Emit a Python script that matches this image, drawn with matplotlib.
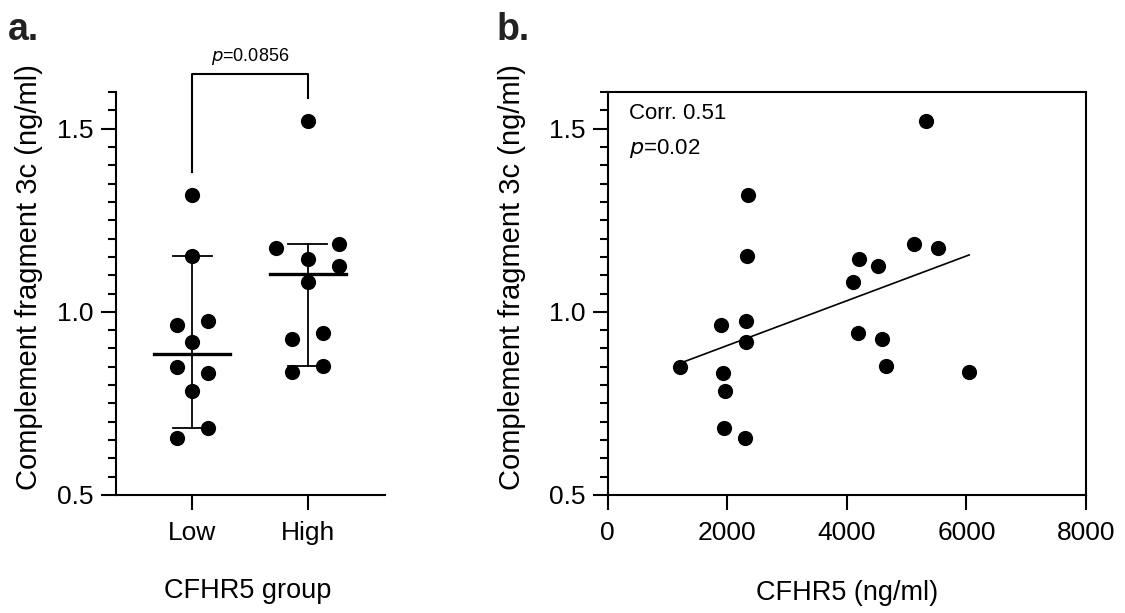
import numpy as np
import matplotlib
matplotlib.use("Agg")
import matplotlib.pyplot as plt
from matplotlib.ticker import MultipleLocator, FormatStrFormatter

plt.rcParams['font.family'] = ['Liberation Sans', 'DejaVu Sans']

# complement fragment 3c (ng/ml) per patient, split by CFHR5 group
c3c_low = [0.850, 0.964, 0.832, 0.784, 0.682, 0.656, 1.320, 1.153, 0.975, 0.918]
c3c_high = [1.082, 1.144, 1.125, 0.941, 0.927, 0.853, 1.184, 1.175, 1.520, 0.836]
# CFHR5 (ng/ml) for the same patients
cfhr5_low = [1205, 1900, 1927, 1967, 1943, 2288, 2343, 2327, 2317, 2317]
cfhr5_high = [4094, 4205, 4522, 4194, 4583, 4650, 5128, 5523, 5317, 6045]

groups = ['Low', 'High']
p_group = '0.0856'
corr_text = 'Corr. 0.51'
p_corr = '0.02'

# swarm layout (in dot widths) as drawn in the original
low_swarm = [-1, -1, 1, 0, 1, -1, 0, 0, 1, 0]
high_swarm = [0, 0, 2, 1, -1, 1, 2, -2, 0, -1]

fig = plt.figure(figsize=(11.25, 6.13), dpi=100)
ax1 = fig.add_axes([0.1031, 0.1925, 0.2391, 0.6574])
ax2 = fig.add_axes([0.5402, 0.1925, 0.4252, 0.6574])

dot = 0.135
ms = 120
lw_axis = 1.5


def style_axis(ax):
    for s in ax.spines.values():
        s.set_linewidth(lw_axis)
    ax.tick_params(axis='both', which='major', length=11, width=lw_axis,
                   labelsize=19, direction='out')
    ax.tick_params(axis='x', pad=8)
    ax.tick_params(axis='y', pad=5)
    ax.tick_params(axis='y', which='minor', length=5.5, width=lw_axis)
    ax.set_ylim(0.5, 1.6)
    ax.yaxis.set_major_locator(MultipleLocator(0.5))
    ax.yaxis.set_minor_locator(MultipleLocator(0.05))
    ax.yaxis.set_major_formatter(FormatStrFormatter('%.1f'))
    ax.set_ylabel('Complement fragment 3c (ng/ml)', fontsize=21)


# ---- panel a ----
style_axis(ax1)
ax1.spines['top'].set_visible(False)
ax1.spines['right'].set_visible(False)

for i, (vals, sw) in enumerate([(c3c_low, low_swarm), (c3c_high, high_swarm)]):
    vals = np.array(vals)
    xs = i + np.array(sw) * dot
    ax1.scatter(xs, vals, s=ms, color='black', zorder=3, linewidths=0)
    srt = np.sort(vals)
    med = np.median(vals)
    lo, hi = srt[1], srt[-2]  # 95% CI of median (ranks 2 and n-1 for n=10)
    ax1.plot([i, i], [lo, hi], color='black', lw=1.3, zorder=2)
    ax1.plot([i - 0.17, i + 0.17], [lo, lo], color='black', lw=1.3, zorder=2)
    ax1.plot([i - 0.17, i + 0.17], [hi, hi], color='black', lw=1.3, zorder=2)
    ax1.plot([i - 0.33, i + 0.33], [med, med], color='black', lw=2.4, zorder=4)

ax1.set_xlim(-0.66, 1.67)
ax1.set_xticks([0, 1])
ax1.set_xticklabels(groups)
ax1.set_xlabel('CFHR5 group', fontsize=19.5)
ax1.xaxis.set_label_coords(0.49, -0.205)
ax1.yaxis.set_label_coords(-0.272, 0.54)

# significance bracket
ax1.plot([0, 0, 1, 1], [1.383, 1.65, 1.65, 1.585], color='black', lw=1.5,
         clip_on=False)
ax1.text(0.5, 1.685, r'$\it{p}$=' + p_group, fontsize=13, ha='center',
         va='baseline')

# ---- panel b ----
style_axis(ax2)
xall = np.array(cfhr5_low + cfhr5_high, dtype=float)
yall = np.array(c3c_low + c3c_high)
ax2.scatter(xall, yall, s=ms, color='black', zorder=3, linewidths=0)
k, b = np.polyfit(xall, yall, 1)
xl = np.array([xall.min(), xall.max()])
ax2.plot(xl, k * xl + b, color='black', lw=1.2, zorder=2)
ax2.set_xlim(0, 8000)
ax2.set_xticks([0, 2000, 4000, 6000, 8000])
ax2.set_xlabel('CFHR5 (ng/ml)', fontsize=19.5)
ax2.xaxis.set_label_coords(0.5, -0.21)
ax2.yaxis.set_label_coords(-0.171, 0.54)
ax2.text(350, 1.525, corr_text, fontsize=16, va='baseline')
ax2.text(350, 1.43, r'$\it{p}$=' + p_corr, fontsize=16, va='baseline')

fig.text(0.007, 1 - 40 / 613, 'a.', fontsize=27, fontweight='bold',
         color='#222222', va='baseline')
fig.text(0.441, 1 - 40 / 613, 'b.', fontsize=27, fontweight='bold',
         color='#222222', va='baseline')

fig.savefig('out.png', dpi=100)
